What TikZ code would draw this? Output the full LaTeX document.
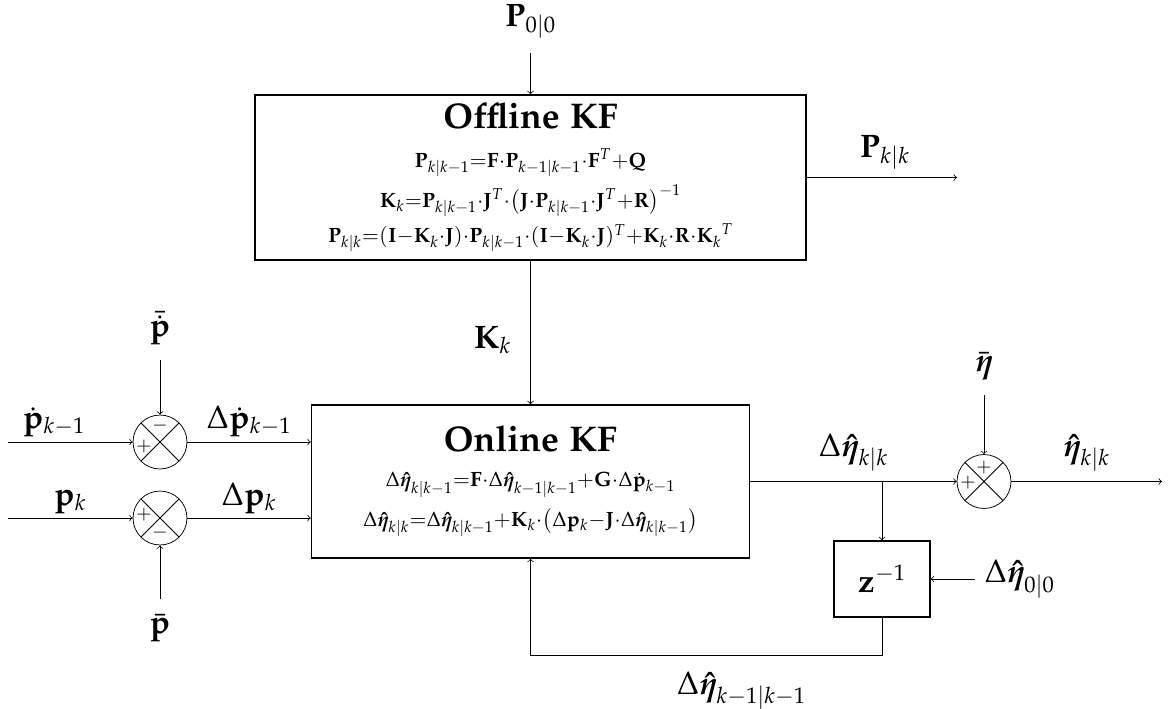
\documentclass[tikz,border=0pt]{standalone}
\usepackage[T1]{fontenc}
\usepackage{amsmath}
\usepackage{amssymb}
\usepackage{mathpazo}
\renewcommand{\rmdefault}{pplx}
\usetikzlibrary{%
  arrows,%
  calc,%
  positioning%
}
\newcommand{\etahat}{\boldsymbol{\hat{\eta}}}

\begin{document}
\begin{tikzpicture}[x=0.532pt,y=-0.532pt]
       \tikzset{block/.style={rectangle, draw, thick, align=center, font=\fontsize{11}{13.5}\selectfont}}
       \tikzset{sum/.style={circle, draw, minimum size=28.7pt, inner sep=0pt,
                path picture={\draw (path picture bounding box.north west) -- (path picture bounding box.south east)
                                    (path picture bounding box.north east) -- (path picture bounding box.south west);}}}
       \tikzset{sign/.style={inner sep=0pt, font=\normalsize}}
       \tikzset{signal/.style={font=\LARGE, inner sep=1pt}}
       \tikzset{source/.style={signal, outer sep=7pt}}

        \useasboundingbox (0,0) rectangle (1173,708);

        % the two filters
        \node[block, minimum width=293pt, minimum height=87.8pt] (offline) at (530.5,177.5)
             {{\fontsize{19}{23}\selectfont\bfseries Offline KF}\\[7pt]
              $\mathbf{P}_{k|k-1}{=}\mathbf{F}{\cdot}\mathbf{P}_{k-1|k-1}{\cdot}\mathbf{F}^T{+}\mathbf{Q}$\\[3pt]
              $\mathbf{K}_k{=}\mathbf{P}_{k|k-1}{\cdot}\mathbf{J}^T{\cdot}\bigl(\mathbf{J}{\cdot}\mathbf{P}_{k|k-1}{\cdot}\mathbf{J}^T{+}\mathbf{R}\bigr)^{-1}$\\[3pt]
              $\mathbf{P}_{k|k}{=}(\mathbf{I}{-}\mathbf{K}_k{\cdot}\mathbf{J}){\cdot}\mathbf{P}_{k|k-1}{\cdot}(\mathbf{I}{-}\mathbf{K}_k{\cdot}\mathbf{J})^T{+}\mathbf{K}_k{\cdot}\mathbf{R}{\cdot}{\mathbf{K}_k}^T$};
        \node[block, minimum width=233pt, minimum height=81.4pt] (online) at (530.5,481.5)
             {{\fontsize{19}{23}\selectfont\bfseries Online KF}\\[5pt]
              $\Delta\etahat_{k|k-1}{=}\mathbf{F}{\cdot}\Delta\etahat_{k-1|k-1}{+}\mathbf{G}{\cdot}\Delta\dot{\mathbf{p}}_{k-1}$\\[5pt]
              $\Delta\etahat_{k|k}{=}\Delta\etahat_{k|k-1}{+}\mathbf{K}_k{\cdot}\bigl(\Delta\mathbf{p}_k{-}\mathbf{J}{\cdot}\Delta\etahat_{k|k-1}\bigr)$};
        \node[block, minimum width=51pt, minimum height=40.4pt] (delay) at (882,579) {\LARGE$\mathbf{z}^{-1}$};

        % summing points
        \node[sum] (sum1) at (160,442) {};
        \node[sum] (sum2) at (160,518) {};
        \node[sum] (sum3) at (984,481.5) {};
        \node[sign] (s1a) at ([shift={(-16,5)}]sum1) {$+$};
        \node[sign] (s1b) at ([shift={(0,-16)}]sum1) {$-$};
        \node[sign] (s2a) at ([shift={(-16,-3)}]sum2) {$+$};
        \node[sign] (s2b) at ([shift={(0,15)}]sum2) {$-$};
        \node[sign] (s3a) at ([shift={(-16,1)}]sum3) {$+$};
        \node[sign] (s3b) at ([shift={(0,-14)}]sum3) {$+$};

        % signals
        \node[source] (p00) at (530.5,21) {$\mathbf{P}_{0|0}$};
        \node[source] (pbdot) at (160,328) {$\bar{\dot{\mathbf{p}}}$};
        \node[source] (pbar) at (160,628) {$\bar{\mathbf{p}}$};
        \node[source] (etabar) at (984,366) {$\bar{\boldsymbol{\eta}}$};
        \node[signal, outer sep=4pt, anchor=west] (eta00) at (975,579) {$\Delta\etahat_{0|0}$};
        \coordinate (pkk) at (957,177.5);
        \coordinate (in1) at (8,442);
        \coordinate (in2) at (8,518);
        \coordinate (branch) at (882,481.5);
        \coordinate (out) at (1162,481.5);

        \draw[->] (p00) -- (offline);
        \draw[->] (offline) -- (pkk) node[signal, pos=0.52, above=3pt] (lpkk) {$\mathbf{P}_{k|k}$};
        \draw[->] (offline) -- (online) node[signal, pos=0.55, left=9pt] (lk) {$\mathbf{K}_k$};

        \draw[->] (in1) -- (sum1) node[signal, pos=0.37, above=1.5pt] (lpd) {$\dot{\mathbf{p}}_{k-1}$};
        \draw[->] (in2) -- (sum2) node[signal, midway, above=1pt] (lp) {$\mathbf{p}_k$};
        \draw[->] (pbdot) -- (sum1);
        \draw[->] (pbar) -- (sum2);
        \draw[->] (sum1) -- (sum1 -| online.west) node[signal, midway, above=1.5pt] (ldpd) {$\Delta\dot{\mathbf{p}}_{k-1}$};
        \draw[->] (sum2) -- (sum2 -| online.west) node[signal, midway, above=1pt] (ldp) {$\Delta\mathbf{p}_k$};

        \draw[->] (online) -- (sum3) node[signal, midway, above=4pt] (ldeta) {$\Delta\etahat_{k|k}$};
        \draw[->] (etabar) -- (sum3);
        \draw[->] (sum3) -- (out) node[signal, midway, above=4pt] (leta) {$\etahat_{k|k}$};
        \draw[->] (branch) -- (delay);
        \draw[->] (eta00) -- (delay);
        \draw[->] (delay.south) -- ++(0,38) -| node[signal, pos=0.2, below=7pt] (lfb) {$\Delta\etahat_{k-1|k-1}$} (online.south);
\end{tikzpicture}
\end{document}
